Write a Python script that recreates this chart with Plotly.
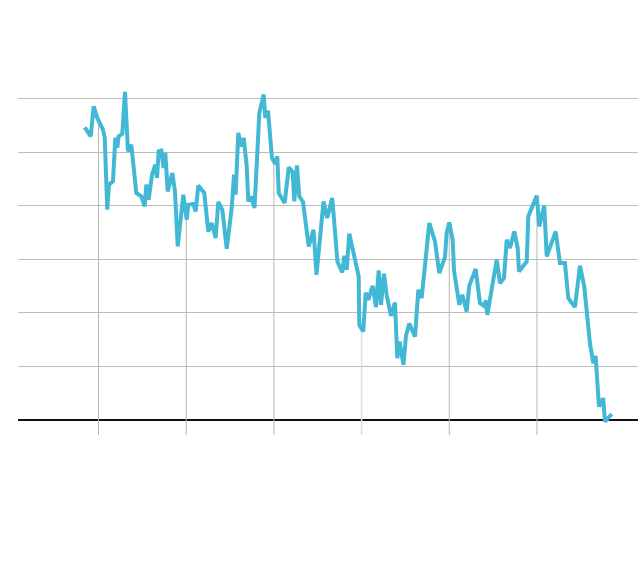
import numpy as np
import plotly.graph_objects as go

# Decimal-year positions of the series
years = [
    2007.843, 2007.911, 2007.945, 2007.986, 2008.051, 2008.071, 2008.100, 2008.120, 2008.165, 2008.192,
    2008.214, 2008.230, 2008.271, 2008.302, 2008.336, 2008.374, 2008.431, 2008.488, 2008.527, 2008.545,
    2008.572, 2008.610, 2008.648, 2008.667, 2008.686, 2008.716, 2008.743, 2008.762, 2008.789, 2008.842,
    2008.872, 2008.903, 2008.967, 2009.006, 2009.024, 2009.081, 2009.108, 2009.138, 2009.206, 2009.252,
    2009.291, 2009.336, 2009.366, 2009.412, 2009.462, 2009.519, 2009.545, 2009.564, 2009.594, 2009.625,
    2009.656, 2009.690, 2009.708, 2009.739, 2009.779, 2009.834, 2009.884, 2009.902, 2009.933, 2009.978,
    2010.016, 2010.039, 2010.055, 2010.123, 2010.169, 2010.214, 2010.233, 2010.263, 2010.290, 2010.332,
    2010.397, 2010.452, 2010.486, 2010.566, 2010.608, 2010.665, 2010.725, 2010.780, 2010.803, 2010.830,
    2010.860, 2010.925, 2010.967, 2010.974, 2011.019, 2011.047, 2011.076, 2011.126, 2011.164, 2011.195,
    2011.221, 2011.255, 2011.286, 2011.335, 2011.381, 2011.407, 2011.432, 2011.478, 2011.506, 2011.544,
    2011.609, 2011.647, 2011.685, 2011.772, 2011.837, 2011.886, 2011.951, 2011.970, 2012.000, 2012.039,
    2012.054, 2012.114, 2012.148, 2012.198, 2012.228, 2012.301, 2012.350, 2012.396, 2012.419, 2012.434,
    2012.484, 2012.541, 2012.578, 2012.624, 2012.655, 2012.692, 2012.741, 2012.780, 2012.795, 2012.883,
    2012.901, 2012.997, 2013.026, 2013.083, 2013.111, 2013.213, 2013.262, 2013.319, 2013.357, 2013.433,
    2013.490, 2013.539, 2013.604, 2013.642, 2013.669, 2013.707, 2013.756, 2013.775, 2013.852,
]

# Series values
values = [
    5.464, 5.295, 5.856, 5.639, 5.421, 5.271, 3.925, 4.393, 4.454, 5.271,
    5.084, 5.295, 5.340, 6.125, 5.015, 5.140, 4.237, 4.174, 3.987, 4.393,
    4.112, 4.579, 4.766, 4.518, 5.015, 5.028, 4.705, 4.985, 4.267, 4.611,
    4.267, 3.239, 4.206, 3.738, 4.019, 4.032, 3.893, 4.379, 4.237, 3.520,
    3.677, 3.396, 4.069, 3.925, 3.196, 3.957, 4.579, 4.206, 5.359, 5.108,
    5.265, 4.735, 4.080, 4.174, 3.957, 5.733, 6.075, 5.639, 5.776, 4.892,
    4.779, 4.921, 4.237, 4.050, 4.716, 4.630, 4.080, 4.753, 4.174, 4.069,
    3.239, 3.551, 2.710, 4.080, 3.770, 4.144, 2.953, 2.753, 3.065, 2.804,
    3.477, 2.991, 2.679, 1.776, 1.650, 2.379, 2.243, 2.505, 2.107, 2.791,
    2.150, 2.729, 2.336, 1.944, 2.193, 1.153, 1.464, 1.028, 1.570, 1.800,
    1.557, 2.430, 2.275, 3.677, 3.333, 2.742, 3.041, 3.490, 3.688, 3.364,
    2.791, 2.150, 2.336, 2.024, 2.505, 2.817, 2.181, 2.131, 2.230, 1.963,
    2.430, 2.991, 2.555, 2.649, 3.364, 3.209, 3.520, 3.209, 2.772, 2.959,
    3.800, 4.187, 3.613, 4.000, 3.052, 3.520, 2.929, 2.929, 2.275, 2.107,
    2.879, 2.492, 1.434, 1.060, 1.196, 0.249, 0.406, -0.032, 0.112,
]

tick_years = [2008, 2009, 2010, 2011, 2012, 2013]
light_tick_years = [2011]

Y_MIN, Y_MAX = -0.28, 7.0
X_MIN, X_MAX = 2007.082, 2014.152

fig = go.Figure()

# Drop lines from the curve down past the baseline at each year tick
tick_vals = np.interp(tick_years, years, values)
dx, dy, lx, ly = [], [], [], []
for t, v in zip(tick_years, tick_vals):
    if t in light_tick_years:
        lx += [t, t, None]
        ly += [Y_MIN, v, None]
    else:
        dx += [t, t, None]
        dy += [Y_MIN, v, None]

fig.add_trace(go.Scatter(x=dx, y=dy, mode="lines",
                         line=dict(color="#b5b5b5", width=1),
                         hoverinfo="skip", showlegend=False))
fig.add_trace(go.Scatter(x=lx, y=ly, mode="lines",
                         line=dict(color="#dcdcdc", width=1.5),
                         hoverinfo="skip", showlegend=False))

fig.add_trace(go.Scatter(x=years, y=values, mode="lines",
                         line=dict(color="#42b8d5", width=4),
                         hoverinfo="skip", showlegend=False))

fig.update_layout(
    width=640, height=584,
    margin=dict(l=18, r=2, t=45, b=149),
    paper_bgcolor="white", plot_bgcolor="white",
    showlegend=False,
    xaxis=dict(range=[X_MIN, X_MAX], showgrid=False, zeroline=False,
               showticklabels=False, ticks="", showline=False, fixedrange=True),
    yaxis=dict(range=[Y_MIN, Y_MAX], tick0=0, dtick=1, showgrid=True,
               gridcolor="#bdbdbd", gridwidth=1,
               zeroline=True, zerolinecolor="#111111", zerolinewidth=2,
               showticklabels=False, ticks="", showline=False, fixedrange=True),
)

fig.write_html(
    "out.html",
    config={"displayModeBar": False},
    post_script="document.body.style.margin='0';document.body.style.overflow='hidden';",
)
